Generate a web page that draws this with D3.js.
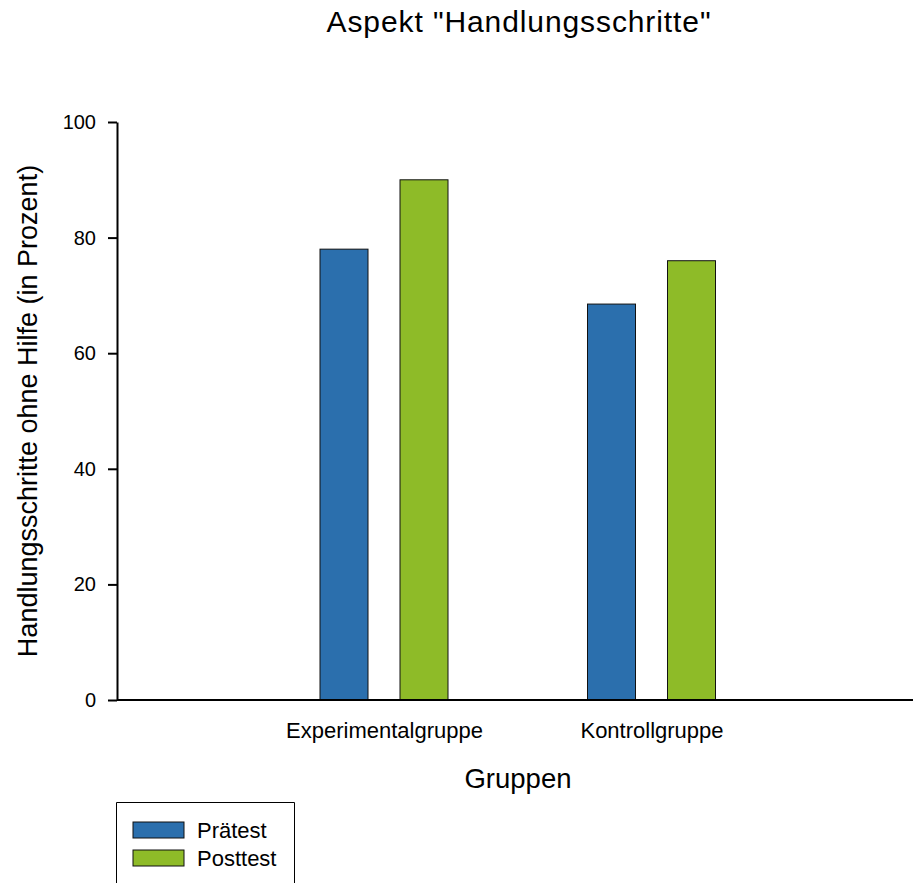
<!DOCTYPE html>
<html>
<head>
<meta charset="utf-8">
<script src="https://cdn.jsdelivr.net/npm/d3@7"></script>
<style>
  body { margin: 0; background: #fff; }
  svg { font-family: "Liberation Sans", Arial, sans-serif; }
</style>
</head>
<body>
<div id="graphic"></div>
<script>
const groups = ["Experimentalgruppe", "Kontrollgruppe"]
const seriesNames = ["Prätest", "Posttest"]
const praetest = [78, 68.5]
const posttest = [90, 76]
const yTicks = [0, 20, 40, 60, 80, 100]

const data = groups.map((g, i) => ({ group: g, "Prätest": praetest[i], "Posttest": posttest[i] }))

const width = 914, height = 883
const margin = { top: 122, left: 117, right: 1, bottom: 183 }

const svg = d3.select("#graphic")
    .append("svg")
    .attr("width", width)
    .attr("height", height)

const x = d3.scalePoint()
    .domain(groups)
    .range([116.5, 919])
    .padding(1)

const xSub = d3.scaleBand()
    .domain(seriesNames)
    .range([-64, 64])
    .paddingInner(0.4)

const y = d3.scaleLinear()
    .domain([0, 100])
    .range([height - margin.bottom, margin.top])

const color = d3.scaleOrdinal()
    .domain(seriesNames)
    .range(["#2b6fad", "#8ebb28"])

// bars
svg.append("g")
    .selectAll("g")
    .data(data)
    .join("g")
    .attr("transform", d => `translate(${x(d.group)},0)`)
    .selectAll("rect")
    .data(d => seriesNames.map(k => ({ key: k, value: d[k] })))
    .join("rect")
    .attr("x", d => xSub(d.key))
    .attr("y", d => y(d.value))
    .attr("width", xSub.bandwidth())
    .attr("height", d => y(0) - y(d.value))
    .attr("fill", d => color(d.key))
    .attr("stroke", "#111")
    .attr("stroke-width", 1)

// y axis
const yAxis = svg.append("g")
    .attr("transform", `translate(${margin.left},0)`)
    .call(d3.axisLeft(y).tickValues(yTicks).tickSize(9).tickSizeOuter(0))
yAxis.select(".domain").attr("stroke", "#000").attr("stroke-width", 2)
yAxis.selectAll(".tick line").attr("stroke", "#000").attr("stroke-width", 2)
yAxis.selectAll("text")
    .attr("font-size", "20px")
    .attr("font-family", "Liberation Sans, Arial, sans-serif")
    .attr("fill", "#000")
    .attr("x", -21)

// x axis
const xAxis = svg.append("g")
    .attr("transform", `translate(0,${y(0)})`)
    .call(d3.axisBottom(x).tickSize(0).tickSizeOuter(0).tickPadding(22))
xAxis.select(".domain").attr("stroke", "#000").attr("stroke-width", 2)
    .attr("d", `M${margin.left},0H${width - 1}`)
xAxis.selectAll("text")
    .attr("font-size", "22px")
    .attr("font-family", "Liberation Sans, Arial, sans-serif")
    .attr("fill", "#000")

// title and labels
svg.append("text")
    .attr("x", 519)
    .attr("y", 32)
    .attr("text-anchor", "middle")
    .attr("font-size", "30px")
    .attr("letter-spacing", "0.9px")
    .text('Aspekt "Handlungsschritte"')

svg.append("text")
    .attr("transform", `translate(37,${(y(0) + y(100)) / 2}) rotate(-90)`)
    .attr("text-anchor", "middle")
    .attr("font-size", "27px")
    .text("Handlungsschritte ohne Hilfe (in Prozent)")

svg.append("text")
    .attr("x", 518)
    .attr("y", 788)
    .attr("text-anchor", "middle")
    .attr("font-size", "27.5px")
    .text("Gruppen")

// legend
const legend = svg.append("g")
svg.append("path")
    .attr("d", "M116.5,883V802.5H294.5V883")
    .attr("fill", "none")
    .attr("stroke", "#000")
    .attr("stroke-width", 1)

const items = legend.selectAll("g")
    .data(seriesNames)
    .join("g")
    .attr("transform", (d, i) => `translate(133,${822 + i * 28})`)
items.append("rect")
    .attr("width", 51)
    .attr("height", 16)
    .attr("fill", d => color(d))
    .attr("stroke", "#111")
items.append("text")
    .attr("x", 64)
    .attr("y", 16)
    .attr("font-size", "22px")
    .text(d => d)
</script>
</body>
</html>
